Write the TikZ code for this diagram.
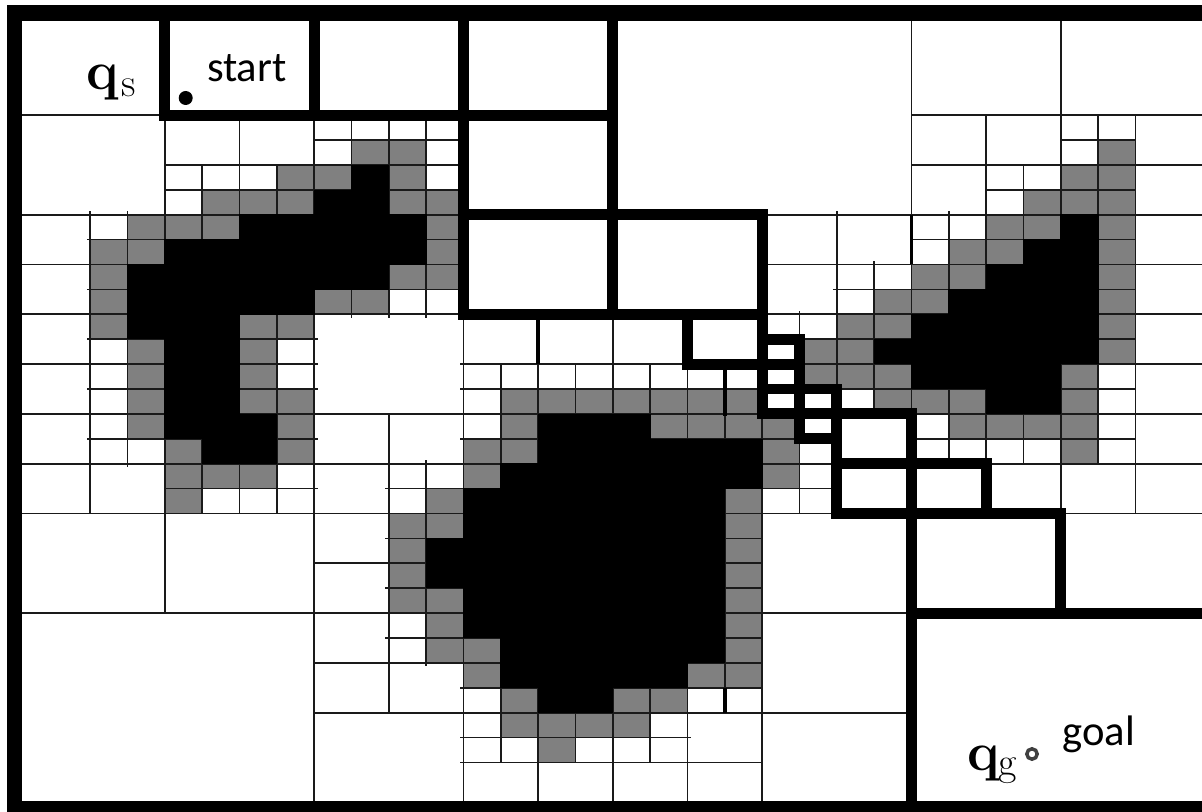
\documentclass[tikz,border=0pt]{standalone}
\usepackage{fontspec}
\newfontfamily\labelfont{Carlito}
\definecolor{gridink}{HTML}{1A1A1A}
\definecolor{greycell}{HTML}{808080}
\tikzset{
  thinl/.style={draw=gridink,line width=1.25pt},
  medl/.style={draw=black,line width=2.6pt},
  thickl/.style={draw=black,line width=8.2pt},
  lbl/.style={inner sep=0pt,outer sep=0pt,anchor=base west,text=black},
  bigq/.style={inner sep=0pt,outer sep=0pt,anchor=base west,text=black,font=\fontsize{41}{41}\selectfont\bfseries},
  subl/.style={inner sep=0pt,outer sep=0pt,anchor=base west,text=black,font=\fontsize{30}{30}\selectfont},
  cal/.style={font=\labelfont\fontsize{32}{32}\selectfont}
}
\newcommand\fineblk[4]{\foreach \a in {#1,...,#3}{\foreach \b in {#2,...,#4}{\draw[thinl] (\a,\b) rectangle ++(1,1);}}}
\newcommand\greyrow[2]{\foreach \a in {#2}{\fill[greycell] (\a,#1) rectangle ++(1,1);\draw[thinl] (\a,#1) rectangle ++(1,1);}}
\newcommand\blackrow[3]{\fill[black] (#2-0.01,#1-0.01) rectangle (#3+1.01,#1+1.01);}
\begin{document}
\begin{tikzpicture}[x=0.75pt,y=-0.75pt]
\useasboundingbox (0,0) rectangle (1202,812);
\clip (0,0) rectangle (1202,812);
\fill[white] (0,0) rectangle (1202,812);
\begin{scope}[shift={(15.5,15.5)},x=28pt,y=-18.675pt]
  % coarse cells
  \foreach \i/\j/\s in {0/0/4,0/4/4,8/12/4,0/20/4,4/20/4,8/28/4,20/20/4,20/24/4,20/28/4,24/0/4,28/0/4,28/20/4,
      0/24/8,16/0/8,
      4/4/2,6/4/2,0/8/2,0/10/2,0/12/2,0/14/2,0/16/2,0/18/2,2/18/2,12/12/2,14/12/2,16/12/2,8/16/2,10/16/2,8/18/2,
      8/20/2,8/22/2,8/24/2,8/26/2,10/26/2,12/30/2,14/30/2,16/30/2,18/30/2,18/28/2,20/8/2,22/8/2,20/10/2,
      24/4/2,26/4/2,30/4/2,24/6/2,30/6/2,30/8/2,30/10/2,30/12/2,30/14/2,30/16/2,30/18/2,26/18/2,28/18/2}
    {\draw[thinl] (\i,\j) rectangle ++(\s,\s);}
  % fine cells
  \fineblk{8}{4}{11}{5}
  \fineblk{4}{6}{11}{7}
  \fineblk{2}{8}{11}{11}
  \fineblk{2}{12}{7}{17}
  \fineblk{4}{18}{7}{19}
  \fineblk{10}{18}{11}{25}
  \fineblk{12}{14}{19}{27}
  \fineblk{12}{28}{17}{29}
  \fineblk{20}{12}{21}{19}
  \fineblk{22}{10}{23}{15}
  \fineblk{24}{8}{29}{17}
  \fineblk{26}{6}{29}{7}
  \fineblk{28}{4}{29}{5}
  % short overshoots of the cell edges
  \foreach \i/\j in {2/9,2/11,2/13,2/15,2/17,12/14,12/15,12/17,10/19,10/21,10/23,10/25,12/27,12/29,12/30,22/11}
    {\draw[thinl] (\i,\j) -- ++(-0.09,0);}
  \foreach \i/\j in {8/13,8/14,8/15,8/17,8/19,18/29}
    {\draw[thinl] (\i,\j) -- ++(0.09,0);}
  \foreach \i/\j in {2/8,3/8,21/12,22/8,25/8,23/10,11/18}
    {\draw[thinl] (\i,\j) -- ++(0,-0.14);}
  \foreach \i/\j in {9/12,10/12,11/12,11/26,3/18}
    {\draw[thinl] (\i,\j) -- ++(0,0.14);}
  % grey cells: first obstacle
  \greyrow{5}{9,10}\greyrow{6}{7,8,10}\greyrow{7}{5,6,7,10,11}\greyrow{8}{3,4,5,11}\greyrow{9}{2,3,11}
  \greyrow{10}{2,10,11}\greyrow{11}{2,8,9}\greyrow{12}{2,6,7}\greyrow{13}{3,6}\greyrow{14}{3,6}
  \greyrow{15}{3,6,7}\greyrow{16}{3,7}\greyrow{17}{4,7}\greyrow{18}{4,5,6}\greyrow{19}{4}
  % grey cells: second obstacle
  \greyrow{15}{13,14,15,16,17,18,19}\greyrow{16}{13,17,18,19,20}\greyrow{17}{12,13,20}\greyrow{18}{12,20}
  \greyrow{19}{11,19}\greyrow{20}{10,11,19}\greyrow{21}{10,19}\greyrow{22}{10,19}\greyrow{23}{10,11,19}
  \greyrow{24}{11,19}\greyrow{25}{11,12,19}\greyrow{26}{12,18,19}\greyrow{27}{13,16,17}\greyrow{28}{13,14,15,16}\greyrow{29}{14}
  % grey cells: third obstacle
  \greyrow{5}{29}\greyrow{6}{28,29}\greyrow{7}{27,28,29}\greyrow{8}{26,27,29}\greyrow{9}{25,26,29}
  \greyrow{10}{24,25,29}\greyrow{11}{23,24,29}\greyrow{12}{22,23,29}\greyrow{13}{21,22,29}
  \greyrow{14}{21,22,23,28}\greyrow{15}{23,24,25,28}\greyrow{16}{25,26,27,28}\greyrow{17}{28}
  % black cells
  \foreach \r/\p/\q in {6/9/9,7/8/9,8/6/10,9/4/10,10/3/9,11/3/7,12/3/5,13/4/5,14/4/5,15/4/5,16/4/6,17/5/6,
      16/14/16,17/14/19,18/13/19,19/12/18,20/12/18,21/11/18,22/11/18,23/12/18,24/12/18,25/13/18,26/13/17,27/14/15,
      8/28/28,9/27/28,10/26/28,11/25/28,12/24/28,13/23/28,14/24/27,15/26/27}
    {\blackrow{\r}{\p}{\q}}
  % slightly heavier cell edges
  \draw[medl] (14,12) -- (14,14);
  \draw[medl] (19,14) -- (19,16.1);
  \draw[medl] (24,8) -- (24,10);
  \draw[medl] (19,27) -- (19,28);
  % bold channel cells
  \foreach \i/\j/\s in {4/0/4,8/0/4,12/0/4,12/4/4,12/8/4,16/8/4,18/12/2,20/13/1,20/14/1,20/15/1,21/15/1,21/16/1,
      22/16/2,22/18/2,24/18/2,24/20/4,24/24/8}
    {\draw[thickl] (\i,\j) rectangle ++(\s,\s);}
\end{scope}
% outer frame (left, top, bottom)
\fill[black] (7,5) rectangle (22,812);
\fill[black] (7,5) rectangle (1202,21);
\fill[black] (7,800.5) rectangle (1202,812);
% markers
\fill[black] (185.7,98) circle (7);
\draw[draw=black!75,line width=2.6pt,fill=white] (1032,754) circle (5.2);
% labels
\node[bigq] (qs) at (86,90) {q};
\node[subl] (qss) at (121.5,97) {s};
\node[lbl,cal] (st) at (207,81.7) {start};
\node[bigq] (qg) at (967,770) {q};
\node[subl] (qgs) at (998,775) {g};
\node[lbl,cal] (go) at (1062.5,745) {goal};
\end{tikzpicture}
\end{document}
